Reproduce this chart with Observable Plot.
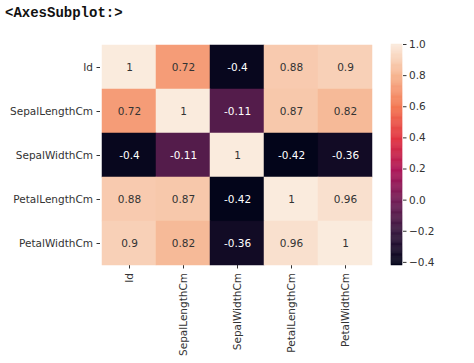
<!DOCTYPE html>
<html>
<head>
<meta charset="utf-8">
<script src="https://cdn.jsdelivr.net/npm/d3@7"></script>
<script src="https://cdn.jsdelivr.net/npm/@observablehq/plot@0.6"></script>
<style>
  html, body { margin: 0; padding: 0; background: #fff; }
  #wrap { position: relative; width: 474px; height: 363px; overflow: hidden; }
  #title { height: 24px; line-height: 26px; padding-left: 5px; font-family: "Liberation Mono", "DejaVu Sans Mono", monospace; font-weight: bold; font-size: 14px; color: #111; }
  #cbar { position: absolute; left: 391px; top: 24px; }
</style>
</head>
<body>
<div id="wrap">
  <div id="title">&lt;AxesSubplot:&gt;</div>
  <div id="heat"></div>
  <div id="cbar"></div>
</div>
<script>
const columns = ["Id", "SepalLengthCm", "SepalWidthCm", "PetalLengthCm", "PetalWidthCm"];
const rowId          = [1, 0.72, -0.4, 0.88, 0.9];
const rowSepalLength = [0.72, 1, -0.11, 0.87, 0.82];
const rowSepalWidth  = [-0.4, -0.11, 1, -0.42, -0.36];
const rowPetalLength = [0.88, 0.87, -0.42, 1, 0.96];
const rowPetalWidth  = [0.9, 0.82, -0.36, 0.96, 1];
const colorbarTicks  = [-0.4, -0.2, 0, 0.2, 0.4, 0.6, 0.8, 1.0];

const rows = [rowId, rowSepalLength, rowSepalWidth, rowPetalLength, rowPetalWidth];
const cells = [];
rows.forEach((r, i) => r.forEach((v, j) => cells.push({row: columns[i], col: columns[j], value: v})));

const vmin = d3.min(cells, d => d.value), vmax = d3.max(cells, d => d.value);
const rocket = d3.piecewise(d3.interpolateRgb, ["#03051a", "#35193e", "#701f57", "#ad1759", "#e13342", "#f37651", "#f6b48f", "#faebdd"]);
const colorFn = v => rocket((v - vmin) / (vmax - vmin));
function lum(c) {
  const rgb = d3.rgb(c);
  const f = x => { x /= 255; return x <= 0.03928 ? x / 12.92 : Math.pow((x + 0.055) / 1.055, 2.4); };
  return 0.2126 * f(rgb.r) + 0.7152 * f(rgb.g) + 0.0722 * f(rgb.b);
}
const fmt = v => String(+v.toPrecision(2));

const font = "DejaVu Sans, sans-serif";
const heat = Plot.plot({
  width: 474, height: 339,
  marginLeft: 100, marginRight: 100, marginTop: 20, marginBottom: 98,
  style: {fontFamily: font, fontSize: "10.5px", color: "#333", background: "transparent"},
  x: {domain: columns, padding: 0, label: null, tickRotate: -90, tickSize: 3.5, tickPadding: 4},
  y: {domain: columns, padding: 0, label: null, tickSize: 3.5, tickPadding: 4},
  color: {type: "linear", domain: [vmin, vmax], interpolate: () => rocket},
  marks: [
    Plot.cell(cells, {x: "col", y: "row", fill: "value", inset: 0, stroke: "value", strokeWidth: 0.5}),
    Plot.text(cells, {x: "col", y: "row", text: d => fmt(d.value), fontSize: 10.5,
      fill: d => lum(colorFn(d.value)) > 0.408 ? "#333333" : "#ffffff"})
  ]
});
document.getElementById("heat").appendChild(heat);

const steps = 200;
const bands = d3.range(steps).map(i => ({
  y1: vmin + (vmax - vmin) * i / steps,
  y2: vmin + (vmax - vmin) * (i + 1) / steps
}));
const cbar = Plot.plot({
  width: 83, height: 339,
  marginLeft: 0, marginRight: 72, marginTop: 20, marginBottom: 98,
  style: {fontFamily: font, fontSize: "10.5px", color: "#333", background: "transparent", overflow: "visible"},
  x: {domain: [0, 1], axis: null},
  y: {domain: [vmin, vmax], axis: "right", ticks: colorbarTicks, label: null, tickSize: 3.5, tickPadding: 3,
      tickFormat: d => (d < 0 ? "\u2212" : "") + Math.abs(d).toFixed(1)},
  marks: [
    Plot.rect(bands, {x1: 0, x2: 1, y1: "y1", y2: "y2", fill: d => colorFn((d.y1 + d.y2) / 2), stroke: d => colorFn((d.y1 + d.y2) / 2), strokeWidth: 0.5})
  ]
});
document.getElementById("cbar").appendChild(cbar);
</script>
</body>
</html>
